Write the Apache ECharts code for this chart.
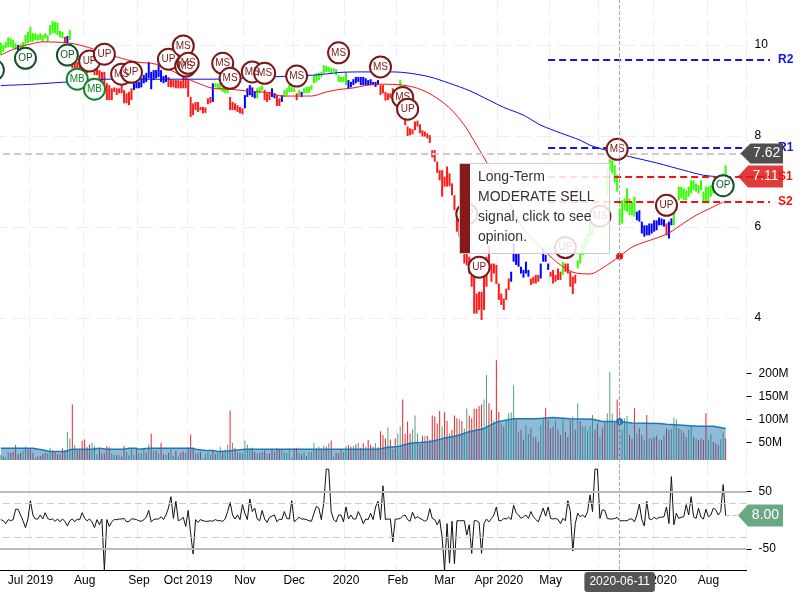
<!DOCTYPE html>
<html>
<head>
<meta charset="utf-8">
<style>html,body{margin:0;padding:0;background:#fff}#main{width:800px;height:600px}</style>
<script src="https://cdn.jsdelivr.net/npm/echarts@6/dist/echarts.min.js"></script>
</head>
<body>
<div id="main"></div>
<script>
// all "day" numbers below count trading days from 2019-07-01; the daily arrays start at day -12
const firstDay = -12;
const priceHigh = [
10.05,10.00,10.07,10.17,10.15,10.11,10.04,10.00,10.02,10.07,10.22,10.29,10.40,10.26,10.26,10.23,10.26,10.22,10.26,10.22,10.44,10.53,10.51,10.49,10.31,10.29,10.18,10.20,10.33,
9.67,9.67,9.63,9.60,9.56,9.60,9.56,9.63,9.63,9.60,9.52,9.45,9.41,9.41,9.16,9.12,9.05,9.07,9.05,9.05,9.12,9.01,8.94,8.97,9.05,
9.16,9.19,9.19,9.27,9.34,9.39,9.63,9.41,9.45,9.45,9.56,9.45,9.32,9.34,
9.30,9.25,9.23,9.23,9.23,9.22,9.30,9.27,9.23,8.86,8.72,8.75,8.75,8.64,8.64,8.63,8.83,8.86,
9.16,9.16,9.16,9.16,9.08,9.05,9.03,
8.86,8.75,8.72,8.68,8.64,8.61,
8.90,9.05,9.12,9.07,8.97,
9.05,9.08,9.10,
9.01,8.94,8.97,
9.05,8.94,8.90,8.83,8.90,9.01,9.05,9.12,9.08,9.05,8.94,9.01,8.97,9.05,9.08,9.08,9.12,9.34,9.38,9.39,9.41,9.56,9.54,9.52,9.49,9.49,9.47,9.34,9.30,9.30,9.41,
9.23,9.19,9.25,9.30,9.30,9.30,9.30,9.27,9.23,9.25,9.19,9.19,9.23,
9.12,9.12,8.97,8.94,8.94,9.05,8.94,9.01,9.23,8.90,8.53,8.21,8.17,8.15,8.32,8.34,8.26,8.13,8.10,8.06,8.02,
7.69,7.69,7.44,7.25,7.25,7.11,7.33,7.18,6.96,6.70,
6.30,6.45,6.23,5.79,5.50,5.35,5.17,4.91,4.54,4.58,4.58,4.91,5.35,5.60,5.20,5.20,5.17,4.76,4.54,4.43,4.65,4.87,
5.02,5.64,5.42,5.42,5.13,5.06,5.24,5.06,
4.87,4.91,4.95,4.95,
5.20,5.53,5.39,5.20,
5.02,5.06,4.95,5.09,5.02,5.24,5.20,5.20,5.02,4.91,4.95,
5.27,5.42,5.64,5.75,5.86,6.08,6.15,6.19,6.26,6.30,6.45,6.60,7.30,
7.49,7.47,7.36,7.15,6.41,6.59,6.63,6.85,6.63,6.56,6.67,
6.34,6.37,6.12,6.04,6.04,6.08,6.08,6.15,6.15,6.21,6.19,6.17,6.08,6.12,6.19,
6.34,6.59,6.89,6.89,6.85,6.81,6.89,7.03,7.03,6.96,6.92,7.03,6.78,6.89,6.89,6.92,6.96,7.03,7.11,7.14,7.18,7.36];
const priceLow = [
9.78,9.85,9.93,9.96,9.96,9.93,9.89,9.89,9.90,9.93,10.00,10.04,10.07,10.07,10.11,10.10,10.11,10.07,10.15,10.07,10.22,10.26,10.26,10.22,10.17,10.15,10.04,10.04,10.11,
9.49,9.45,9.41,9.38,9.34,9.41,9.38,9.49,9.41,9.34,9.34,9.23,9.16,9.05,8.79,8.79,8.79,8.97,8.90,8.94,8.94,8.72,8.72,8.68,8.79,
9.01,9.05,9.05,9.07,9.16,9.19,9.27,9.03,9.23,9.27,9.30,9.19,9.16,9.19,
9.08,9.07,9.07,9.05,9.05,9.05,9.05,9.05,8.86,8.42,8.46,8.57,8.53,8.57,8.50,8.51,8.70,8.72,
8.75,9.07,9.03,9.01,8.97,8.94,8.94,
8.57,8.57,8.57,8.53,8.50,8.48,
8.61,8.86,8.90,8.86,8.83,
8.83,8.94,9.00,
8.79,8.75,8.79,
8.86,8.83,8.66,8.66,8.75,8.86,8.90,8.97,8.97,8.97,8.79,8.90,8.86,8.94,8.94,8.95,9.01,9.16,9.19,9.23,9.30,9.38,9.41,9.41,9.38,9.41,9.34,9.19,9.19,9.19,9.12,
9.05,9.07,9.12,9.16,9.19,9.12,9.12,9.12,9.12,9.12,9.12,9.08,9.12,
8.90,8.94,8.78,8.79,8.83,8.90,8.79,8.83,9.10,8.68,8.24,8.00,8.02,8.04,8.13,8.21,8.06,7.99,7.99,7.95,7.85,
7.53,7.44,7.19,7.03,6.67,6.89,6.89,6.90,6.70,6.37,
5.90,5.79,5.64,5.20,5.16,4.98,4.69,4.10,4.10,4.18,3.96,4.18,4.69,5.20,4.80,4.98,4.75,4.40,4.29,4.18,4.40,4.62,
4.80,5.24,5.17,5.13,4.98,4.89,4.98,4.91,
4.73,4.76,4.76,4.80,
4.87,5.24,5.24,5.06,
4.91,4.76,4.80,4.84,4.84,4.95,5.02,4.98,4.69,4.53,4.76,
5.09,5.20,5.38,5.50,5.60,5.79,5.82,5.97,6.04,6.15,6.20,6.30,6.70,
7.25,7.18,6.98,6.78,6.04,6.08,6.37,6.34,6.26,6.26,6.23,
6.15,6.12,5.86,5.79,5.82,5.82,5.86,5.90,5.93,6.04,6.04,6.01,5.82,5.75,6.04,
6.04,6.37,6.59,6.63,6.59,6.59,6.67,6.74,6.81,6.78,6.74,6.81,6.56,6.56,6.52,6.67,6.74,6.85,6.89,6.96,6.96,7.14];
const priceColorRuns = [['g',7],['b',1],['g',18],['r',1],['b',1],['g',1],['r',25],['b',14],['r',18],['b',1],['g',6],['r',6],['b',5],['g',3],['r',3],['b',2],['r',2],['b',1],['g',5],['r',1],['g',1],['b',1],['g',18],['b',13],['r',8],['g',1],['r',44],['b',8],['r',4],['b',4],['r',5],['g',1],['r',5],['g',24],['b',12],['r',1],['b',2],['g',22]];

// moving averages, read at a few days only
const maDays = [-12,-6,0,5,15,20,27,35,43,51,57,62,69,74,81,88,97,102,109,114,120,126,130,137,143,151,157,163,170,176,181,185,190,199,207,214,220,227,232,239,244,248,254,259,265,270,276,281];
const redMa = [9.78,9.93,10.02,10.07,10.05,10.00,9.89,9.74,9.63,9.58,9.45,9.30,9.14,9.05,9.03,8.99,8.95,8.88,8.88,8.88,8.97,9.03,9.05,9.12,9.14,9.12,9.05,8.90,8.62,8.24,7.80,7.43,6.97,6.04,5.56,5.21,5.01,4.97,5.10,5.36,5.56,5.65,5.76,5.87,6.09,6.26,6.42,6.55];
const blueMaDays = [-12,1,15,31,55,74,97,115,126,135,147,154,162,170,178,186,192,200,207,215,223,227,234,243,254,265,273,281];
const blueMa = [9.11,9.14,9.19,9.25,9.25,9.25,9.30,9.34,9.40,9.41,9.41,9.38,9.30,9.16,9.00,8.79,8.63,8.46,8.24,8.07,7.91,7.80,7.68,7.55,7.41,7.25,7.14,7.10];

const signalDays = [-15,-2,15,19,24,26,30,37,41,56,62,63,64,78,81,90,95,108,125,142,151,153,177,182,217,231,238,258,281];
const signalPrices = [9.45,9.71,9.78,9.25,9.65,9.03,9.80,9.36,9.40,9.69,9.98,9.54,9.60,9.60,9.27,9.41,9.38,9.32,9.83,9.52,8.85,8.59,6.29,5.12,5.55,6.24,7.71,6.48,6.91];
const signalTexts = ['OP','OP','OP','MB','UP','MB','UP','MS','UP','UP','MS','MS','MS','MS','MS','MS','MS','MS','MS','MS','MS','UP','UP','UP','UP','MS','MS','UP','OP'];

const pivotNames = ['R2','R1','S1','S2'];
const pivotValues = [9.67,7.74,7.10,6.55];
const lastClose = 7.62;
const lastTarget = 7.11;
const lastCci = 8.00;
const cursorDay = 239;

// volume in millions
const volumes = [
23,20,18,30,28,30,45,25,28,33,41,36,
36,28,18,20,21,25,28,27,39,33,30,25,25,38,34,74,59,133,45,33,34,54,57,40,46,50,43,25,38,27,27,43,40,27,23,24,22,20,
43,30,22,36,23,38,27,27,36,28,46,70,33,34,27,50,25,24,28,36,21,33,20,27,31,28,40,68,38,27,28,30,16,25,30,24,34,25,30,41,30,36,46,120,50,39,30,28,27,55,
46,38,39,30,27,27,30,33,27,27,37,30,38,34,36,28,28,38,16,38,39,28,25,30,21,30,30,49,37,41,37,44,41,49,55,20,28,27,34,30,43,45,41,43,46,50,39,49,41,56,
45,41,49,40,75,67,59,83,57,36,59,70,
85,144,69,96,70,79,109,70,47,65,65,65,57,109,107,92,119,85,116,97,70,78,109,103,101,97,81,125,109,103,124,124,130,133,144,197,136,121,99,230,117,92,85,99,114,116,175,99,74,78,
57,88,69,81,62,62,52,88,105,125,99,81,85,99,78,67,101,74,63,99,107,78,136,96,85,85,76,86,110,78,92,62,81,96,114,204,114,96,144,116,78,103,108,67,59,125,70,81,67,56,
110,59,59,62,65,57,56,67,81,78,79,105,101,81,78,72,62,78,88,62,59,56,59,56,114,56,69,52,49,45,57,72,59];
const volumeColors = [
'grggrrrrrg','grrrgrrrrg','grrrrrrggr','grrrrrrggg','rrrrrggrgr','rgrggrgggr','grgrgrrgrg','grgrrgrrrg','rrggggrrgg','rggrgrgrgg',
'ggrrgrrrgr','rgrrggggrr','rgrgrgggrg','rgrgrgrrrg','grrgrgrrgr','rrgrrrrgrg','rggrrrrggg','rrgrrrrrrg','rrgrrrgrgg','rrrrrrggrr',
'grrgrggggr','grrggrgrrg','grrrrgrrgr','rrgrgrgggg','grrgrrgggr','rrgggrrrgr','rgrgrrrgrg','rrgggrgrrg','grgrrrrggr','rrggr'].join('');
const volumeAvgDays = [-12,1,5,8,14,17,25,28,31,38,40,43,44,48,66,67,71,74,76,80,84,87,141,143,145,149,150,154,162,168,173,178,184,188,190,196,204,208,212,219,228,232,239,244,255,258,271,277,282];
const volumeAvg = [38,38,34,31,31,36,36,38,36,36,38,38,36,38,38,36,33,33,31,32,34,36,36,38,40,42,43,49,52,60,65,74,81,92,96,102,102,103,105,102,101,96,96,93,92,90,86,86,81];

const cci = [
1,-1,-6,1,-1,1,19,19,9,-1,-13,2,
34,9,2,2,9,2,13,3,1,2,-2,2,-3,2,-2,-10,-1,2,-3,2,1,13,3,-1,2,-3,-13,1,-8,2,-87,1,-11,-3,1,1,2,2,
3,-3,-2,2,2,1,-1,-2,1,5,17,-3,1,2,2,6,1,9,21,41,3,33,-1,1,5,-11,17,-23,-59,1,-4,1,-1,-2,-2,-1,-2,1,-1,-1,-2,2,15,31,9,2,9,1,27,12,
1,37,15,21,2,-1,17,2,-4,5,7,9,-3,2,1,15,3,2,34,-3,1,5,2,2,1,-1,-2,12,24,21,1,30,89,89,15,1,-3,9,9,-3,23,2,9,2,2,15,6,-6,2,1,
12,1,23,33,1,60,1,2,2,-38,2,2,
3,7,9,1,-2,14,3,6,3,1,-2,1,20,3,1,-8,1,-30,-87,-6,-75,-2,-76,-1,-1,-1,-1,-26,-8,-58,-1,-1,-4,-58,-6,2,-3,3,9,23,-1,-1,3,2,5,1,26,13,9,3,
6,9,3,15,6,1,-3,9,21,7,23,3,2,3,1,-6,3,-1,34,15,-54,-6,12,6,9,5,15,44,15,89,89,3,18,17,3,2,2,3,5,-1,-1,-1,-1,2,2,-3,9,28,1,-10,
33,2,1,5,2,5,5,6,23,-6,76,-8,12,3,5,6,27,9,41,6,3,21,5,2,19,6,9,21,18,9,15,62,8];
const cciBands = [50,-50];
const cciSoft = [30,-30];

const monthTicks = {'2019-07-01':'Jul 2019','2019-08-01':'Aug','2019-09-03':'Sep','2019-10-01':'Oct 2019','2019-11-01':'Nov','2019-12-02':'Dec','2020-01-02':'2020','2020-02-03':'Feb','2020-03-02':'Mar','2020-04-01':'Apr 2020','2020-05-01':'May','2020-06-01':'Jun','2020-07-01':'Jul 2020','2020-08-03':'Aug'};
const holidays = ['2019-07-04','2019-09-02','2019-11-28','2019-12-25','2020-01-01','2020-01-20','2020-02-17','2020-04-10','2020-05-25','2020-07-03'];

// 24 trading days sit left of 2019-07-01, most of them off the canvas
const dayOffset = 24;
const categoryCount = 315;
const categories = [];
for (let d = new Date(Date.UTC(2019, 4, 28)); categories.length < categoryCount; d.setUTCDate(d.getUTCDate() + 1)) {
    const s = d.toISOString().slice(0, 10);
    if (d.getUTCDay() % 6 !== 0 && !holidays.includes(s)) categories.push(s);
}
const cat = day => day + dayOffset;
const firstCat = cat(firstDay);

const priceColors = priceColorRuns.map(r => r[0].repeat(r[1])).join('');
const barColor = {g: '#33ff00', b: '#0000ff', r: '#ff1a1a'};
const signalColor = {MS: '#7b1818', UP: '#7b1818', OP: '#14532a', MB: '#15852a'};
const font = 'Liberation Sans';

const barData = priceHigh.map((h, i) => [firstCat + i, h, priceLow[i], priceColors[i]]);
const volumeData = volumes.map((v, i) => ({
    value: [firstCat + i, v],
    itemStyle: {color: volumeColors[i] === 'g' ? '#5a9f7c' : '#e8262a'}
}));
const cciData = cci.map((v, i) => [firstCat + i, v]);
const signalData = signalDays.map((d, i) => {
    const c = signalColor[signalTexts[i]];
    return {
        value: [cat(d), signalPrices[i]],
        itemStyle: {color: '#fff', borderColor: c, borderWidth: 2, opacity: 1},
        label: {show: true, formatter: signalTexts[i], color: c, fontSize: 10, fontFamily: font}
    };
});

function renderBar(params, api) {
    const top = api.coord([api.value(0), api.value(1)]);
    const bottom = api.coord([api.value(0), api.value(2)]);
    return {
        type: 'rect',
        shape: {x: top[0] - 1, y: top[1], width: 2, height: bottom[1] - top[1]},
        style: {fill: barColor[barData[params.dataIndex][3]]}
    };
}

function renderPivot(params, api) {
    const a = api.coord([api.value(0), api.value(2)]);
    const b = api.coord([api.value(1), api.value(2)]);
    const name = pivotNames[params.dataIndex];
    const color = name[0] === 'R' ? '#1414e6' : '#f01414';
    return {
        type: 'group',
        children: [
            {type: 'line', shape: {x1: a[0], y1: a[1], x2: b[0], y2: b[1]},
             style: {stroke: color, lineWidth: 2, lineDash: [7, 4]}},
            {type: 'text', x: b[0] + 8, y: b[1],
             style: {text: name, fill: color, font: 'bold 12px ' + font, textVerticalAlign: 'middle'}}
        ]
    };
}

function tagSeries(tipDay, value, color, z, yAxisIndex, halfHeight, fromDay) {
    return {
        type: 'custom', xAxisIndex: yAxisIndex, yAxisIndex: yAxisIndex, z: z, silent: true,
        data: [[cat(tipDay), value]],
        encode: {x: 0, y: 1},
        renderItem: function (params, api) {
            const p = api.coord([api.value(0), api.value(1)]);
            const right = 783;
            const children = [];
            if (fromDay !== undefined) {
                const s = api.coord([cat(fromDay), api.value(1)]);
                children.push({type: 'line', shape: {x1: s[0], y1: s[1], x2: p[0], y2: p[1]},
                    style: {stroke: '#bbb', lineWidth: 1, lineDash: [4, 3]}});
            }
            children.push({type: 'polygon',
                shape: {points: [[p[0], p[1]], [p[0] + 10, p[1] - halfHeight], [right, p[1] - halfHeight], [right, p[1] + halfHeight], [p[0] + 10, p[1] + halfHeight]]},
                style: {fill: color}});
            children.push({type: 'text', x: (p[0] + 10 + right) / 2, y: p[1],
                style: {text: value.toFixed(2), fill: '#fff', font: '14px ' + font, textAlign: 'center', textVerticalAlign: 'middle'}});
            return {type: 'group', children: children};
        }
    };
}

const monthInterval = (index, value) => monthTicks[value] !== undefined;
const gridLine = {show: true, interval: monthInterval, lineStyle: {color: '#eee', width: 1, type: [15, 6]}};
const pointer = label => ({
    show: true, status: 'show', value: cat(cursorDay), snap: false,
    lineStyle: {color: '#aaa', type: [4, 2], width: 1},
    label: label ? {show: true, backgroundColor: '#555', color: '#fff', fontFamily: font, fontSize: 12, padding: [4, 5], margin: 2,
        borderColor: '#ccc', borderWidth: 0, formatter: () => categories[cat(cursorDay)]} : {show: false}
});
const gridBox = {left: -30, width: 776.6, outerBoundsMode: 'none'};

const option = {
    animation: false,
    backgroundColor: '#fff',
    grid: [
        {...gridBox, top: 0, height: 345},
        {...gridBox, top: 345, height: 115},
        {...gridBox, top: 460, height: 110}
    ],
    xAxis: [0, 1, 2].map(i => ({
        type: 'category', gridIndex: i, data: categories, boundaryGap: true, position: 'bottom',
        axisLine: i === 2 ? {onZero: false, lineStyle: {color: '#000', width: 1}} : {show: false, onZero: false},
        axisTick: {show: false, alignWithLabel: true},
        axisLabel: i === 2 ? {
            show: true, interval: monthInterval, color: '#000', fontSize: 12, fontFamily: font, margin: 5,
            hideOverlap: false, formatter: v => monthTicks[v] || ''
        } : {show: false},
        splitLine: gridLine,
        axisPointer: pointer(i === 2)
    })),
    yAxis: [
        {
            type: 'value', gridIndex: 0, position: 'right', min: 3.41, max: 10.99,
            axisLine: {show: false},
            axisTick: {show: false, customValues: [4, 6, 8, 10]},
            axisLabel: {color: '#000', fontSize: 12, fontFamily: font, margin: 8, customValues: [4, 6, 8, 10], formatter: v => String(v)},
            splitLine: {show: true, lineStyle: {color: '#eee', type: [15, 6]}}
        },
        {
            type: 'value', gridIndex: 1, position: 'right', min: 12.4, max: 262.4,
            axisLine: {show: false},
            axisTick: {show: true, length: 5, lineStyle: {color: '#000'}, customValues: [50, 100, 150, 200]},
            axisLabel: {color: '#000', fontSize: 12, fontFamily: font, margin: 12, customValues: [50, 100, 150, 200], formatter: v => v + 'M'},
            splitLine: {show: false}
        },
        {
            type: 'value', gridIndex: 2, position: 'right', min: -87, max: 105,
            axisLine: {show: false},
            axisTick: {show: true, length: 5, lineStyle: {color: '#000'}, customValues: cciBands},
            axisLabel: {color: '#000', fontSize: 12, fontFamily: font, margin: 12, customValues: cciBands, formatter: v => String(v)},
            splitLine: {show: false}
        }
    ],
    series: [
        {
            name: 'price', type: 'custom', xAxisIndex: 0, yAxisIndex: 0, z: 3, silent: true,
            data: barData.map(b => b.slice(0, 3)),
            encode: {x: 0, y: [1, 2]},
            renderItem: renderBar,
            markLine: {
                silent: true, symbol: 'none', label: {show: false}, animation: false,
                lineStyle: {color: '#ccc', width: 2, type: [7, 4]},
                data: [{yAxis: lastClose}]
            }
        },
        {
            name: 'ma red', type: 'line', xAxisIndex: 0, yAxisIndex: 0, z: 4, showSymbol: false, smooth: 0.3, silent: true,
            lineStyle: {color: '#f01414', width: 1},
            data: maDays.map((d, i) => [cat(d), redMa[i]])
        },
        {
            name: 'ma blue', type: 'line', xAxisIndex: 0, yAxisIndex: 0, z: 4, showSymbol: false, smooth: 0.3, silent: true,
            lineStyle: {color: '#0a0ae6', width: 1},
            data: blueMaDays.map((d, i) => [cat(d), blueMa[i]])
        },
        {
            name: 'cursor', type: 'scatter', xAxisIndex: 0, yAxisIndex: 0, z: 5, symbolSize: 7, silent: true,
            itemStyle: {color: '#f01414', opacity: 1},
            data: [[cat(cursorDay), redMa[maDays.indexOf(cursorDay)]]]
        },
        tagSeries(287.4, lastTarget, '#e23b3b', 6, 0, 11),
        {
            name: 'pivots', type: 'custom', xAxisIndex: 0, yAxisIndex: 0, z: 7, silent: true,
            data: pivotValues.map(v => [cat(210), cat(300), v]),
            encode: {x: 0, y: 2},
            renderItem: renderPivot
        },
        {
            name: 'signals', type: 'scatter', xAxisIndex: 0, yAxisIndex: 0, z: 8, symbolSize: 21, silent: true,
            data: signalData
        },
        tagSeries(288, lastClose, '#4f4f4f', 9, 0, 10),
        {
            name: 'volume', type: 'bar', xAxisIndex: 1, yAxisIndex: 1, z: 2, barWidth: 1, silent: true,
            data: volumeData
        },
        {
            name: 'volume avg', type: 'line', xAxisIndex: 1, yAxisIndex: 1, z: 3, showSymbol: false, silent: true,
            lineStyle: {color: '#1f78b4', width: 1.5},
            areaStyle: {color: '#1f78b4', opacity: 0.5, origin: 'start'},
            data: volumeAvgDays.map((d, i) => [cat(d), volumeAvg[i]])
        },
        {
            name: 'volume cursor', type: 'scatter', xAxisIndex: 1, yAxisIndex: 1, z: 4, symbolSize: 7, silent: true,
            itemStyle: {color: '#1f78b4', opacity: 1},
            data: [[cat(cursorDay), volumeAvg[volumeAvgDays.indexOf(cursorDay)]]]
        },
        {
            name: 'cci', type: 'line', xAxisIndex: 2, yAxisIndex: 2, z: 4, showSymbol: false, silent: true,
            lineStyle: {color: '#111', width: 1},
            data: cciData,
            markLine: {
                silent: true, symbol: 'none', label: {show: false}, animation: false,
                data: cciBands.map(v => ({yAxis: v, lineStyle: {color: '#bbb', width: 2, type: 'solid'}}))
                    .concat(cciSoft.map(v => ({yAxis: v, lineStyle: {color: '#ccc', width: 1, type: [7, 4]}})))
            }
        },
        tagSeries(287, lastCci, '#6aa884', 6, 2, 11, 282)
    ],
    graphic: [
        {type: 'rect', z: 100, shape: {x: 459.5, y: 163.5, width: 150, height: 90},
         style: {fill: 'rgba(255,255,255,0.85)', stroke: '#ccc', lineWidth: 1}},
        {type: 'rect', z: 101, shape: {x: 460, y: 164, width: 10, height: 89}, style: {fill: '#861a1a'}},
        {type: 'text', z: 101, x: 478, y: 167,
         style: {text: 'Long-Term\nMODERATE SELL\nsignal, click to see\nopinion.', fill: '#333', font: '14px ' + font, lineHeight: 20}}
    ]
};

const myChart = echarts.init(document.getElementById('main'), null, {renderer: 'canvas'});
myChart.setOption(option);
window.addEventListener('resize', myChart.resize);
</script>
</body>
</html>
